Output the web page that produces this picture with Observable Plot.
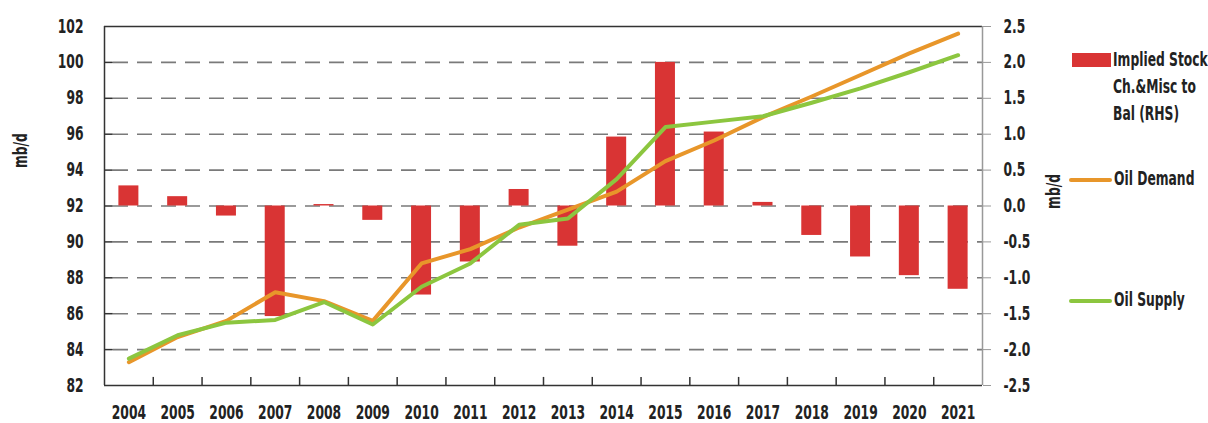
<!DOCTYPE html>
<html>
<head>
<meta charset="utf-8">
<script src="https://cdn.jsdelivr.net/npm/d3@7"></script>
<script src="https://cdn.jsdelivr.net/npm/@observablehq/plot@0.6"></script>
<style>
  body { margin: 0; background: #fff; }
  #wrap { position: relative; width: 1208px; height: 423px; font-family: "DejaVu Sans Condensed", sans-serif; font-weight: bold; color: #222; }
  #legend { position: absolute; left: 1069px; top: 0; width: 139px; font-size: 19px; }
  .item { position: absolute; left: 0; display: flex; align-items: flex-start; white-space: nowrap; }
  .sw { flex: none; }
  .txt { line-height: 27px; margin-left: 2px; }
  .txt span { display: inline-block; transform: scaleX(0.72); transform-origin: left center; }
</style>
</head>
<body>
<div id="wrap"></div>
<script>
const years = [2004,2005,2006,2007,2008,2009,2010,2011,2012,2013,2014,2015,2016,2017,2018,2019,2020,2021];
const stockChange = [0.28,0.13,-0.14,-1.54,0.02,-0.20,-1.24,-0.78,0.23,-0.56,0.96,2.00,1.03,0.05,-0.41,-0.71,-0.97,-1.16];
const oilDemand = [83.3,84.7,85.6,87.2,86.7,85.6,88.8,89.6,90.8,91.8,92.8,94.5,95.65,96.95,98.1,99.3,100.5,101.6];
const oilSupply = [83.5,84.8,85.5,85.65,86.65,85.4,87.5,88.8,90.95,91.3,93.5,96.4,96.7,97.0,97.75,98.55,99.45,100.4];
const leftTicks = [82,84,86,88,90,92,94,96,98,100,102];
const rightTickLabels = ["-2.5","-2.0","-1.5","-1.0","-0.5","0.0","0.5","1.0","1.5","2.0","2.5"];
const axisLabel = "mb/d";
const legendLines = [["Implied Stock", "Ch.&Misc to", "Bal (RHS)"], ["Oil Demand"], ["Oil Supply"]];
const colors = ["#d93434", "#e8962a", "#8cc63f"];

// RHS value v maps onto LHS scale as 92 + 4*v (0 -> 92, 2.5 -> 102)
const bars = years.map((y, i) => ({year: y, v: stockChange[i], y1: 92, y2: 92 + 4 * stockChange[i]}));
const demand = years.map((y, i) => ({year: y, v: oilDemand[i]}));
const supply = years.map((y, i) => ({year: y, v: oilSupply[i]}));
const boundaries = years.slice(0, -1).map(y => y + 0.5);

const font = '"DejaVu Sans Condensed", sans-serif';

const chart = Plot.plot({
  width: 1208,
  height: 423,
  marginLeft: 104,
  marginRight: 226,
  marginTop: 26,
  marginBottom: 38,
  style: {fontFamily: font, fontSize: "19px", fontWeight: "bold", color: "#222", background: "#fff"},
  x: {type: "linear", domain: [2003.5, 2021.5]},
  y: {domain: [82, 102]},
  marks: [
    Plot.gridY(leftTicks.slice(1, -1), {stroke: "#7a7a7a", strokeOpacity: 1, strokeWidth: 1.6, strokeDasharray: "15,9", strokeDashoffset: -9}),
    Plot.rectY(bars, {x1: d => d.year - 0.205, x2: d => d.year + 0.205, y1: "y1", y2: "y2", fill: colors[0]}),
    Plot.line(demand, {x: "year", y: "v", stroke: colors[1], strokeWidth: 4}),
    Plot.line(supply, {x: "year", y: "v", stroke: colors[2], strokeWidth: 4}),
    // frame
    Plot.ruleY([82, 102], {stroke: "#333", strokeWidth: 1.5}),
    Plot.ruleX([2003.5], {stroke: "#333", strokeWidth: 1.5}),
    Plot.ruleX([2021.5], {stroke: "#999", strokeWidth: 1.5}),
    // x ticks at category boundaries (inward)
    Plot.ruleX(boundaries, {y1: 82, y2: 82.45, stroke: "#333", strokeWidth: 1.5}),
    Plot.axisX(years, {tickSize: 0, tickPadding: 20, tickFormat: d => String(d), label: null, fontSize: 19}),
    // left axis
    Plot.axisY(leftTicks, {anchor: "left", tickSize: 0, tickPadding: 21, label: null, fontSize: 19}),
    Plot.ruleY(leftTicks.slice(1, -1), {x1: 2003.5, x2: 2003.68, stroke: "#333", strokeWidth: 1.5}),
    Plot.text([axisLabel], {frameAnchor: "left", dx: -84, dy: -38, rotate: -90, fontSize: 19, fontWeight: "bold", fill: "#222"}),
    // right axis (RHS)
    Plot.axisY(leftTicks, {anchor: "right", tickSize: 8, tickPadding: 13, stroke: "#999", tickFormat: (d, i) => rightTickLabels[i], label: null, fontSize: 19}),
    Plot.text([axisLabel], {frameAnchor: "right", dx: 71, dy: -32, rotate: -90, fontSize: 19, fontWeight: "bold", fill: "#222"})
  ]
});

const wrap = document.getElementById("wrap");
wrap.appendChild(chart);

// condense the SVG texts horizontally (reference uses a condensed face)
chart.querySelectorAll("text").forEach(t => {
  const len = t.getComputedTextLength();
  if (len > 0) {
    t.setAttribute("textLength", (len * 0.72).toFixed(1));
    t.setAttribute("lengthAdjust", "spacingAndGlyphs");
  }
});

// Legend (HTML, to the right of the plot)
const legend = document.createElement("div");
legend.id = "legend";
const items = [
  {top: 46, sw: {w: 39, h: 14, mt: 7, r: 0, ml: 3}},
  {top: 165, sw: {w: 43, h: 4, mt: 13, r: 2, ml: 0}},
  {top: 286, sw: {w: 43, h: 4, mt: 13, r: 2, ml: 0}}
];
items.forEach((it, i) => {
  const el = document.createElement("div");
  el.className = "item";
  el.style.top = it.top + "px";
  const sw = document.createElement("div");
  sw.className = "sw";
  sw.style.width = it.sw.w + "px";
  sw.style.height = it.sw.h + "px";
  sw.style.marginTop = it.sw.mt + "px";
  sw.style.borderRadius = it.sw.r + "px";
  sw.style.background = colors[i];
  sw.style.marginLeft = it.sw.ml + "px";
  const tx = document.createElement("div");
  tx.className = "txt";
  legendLines[i].forEach((line, j) => {
    const s = document.createElement("span");
    s.textContent = line;
    tx.appendChild(s);
    if (j < legendLines[i].length - 1) tx.appendChild(document.createElement("br"));
  });
  el.appendChild(sw);
  el.appendChild(tx);
  legend.appendChild(el);
});
wrap.appendChild(legend);
</script>
</body>
</html>
